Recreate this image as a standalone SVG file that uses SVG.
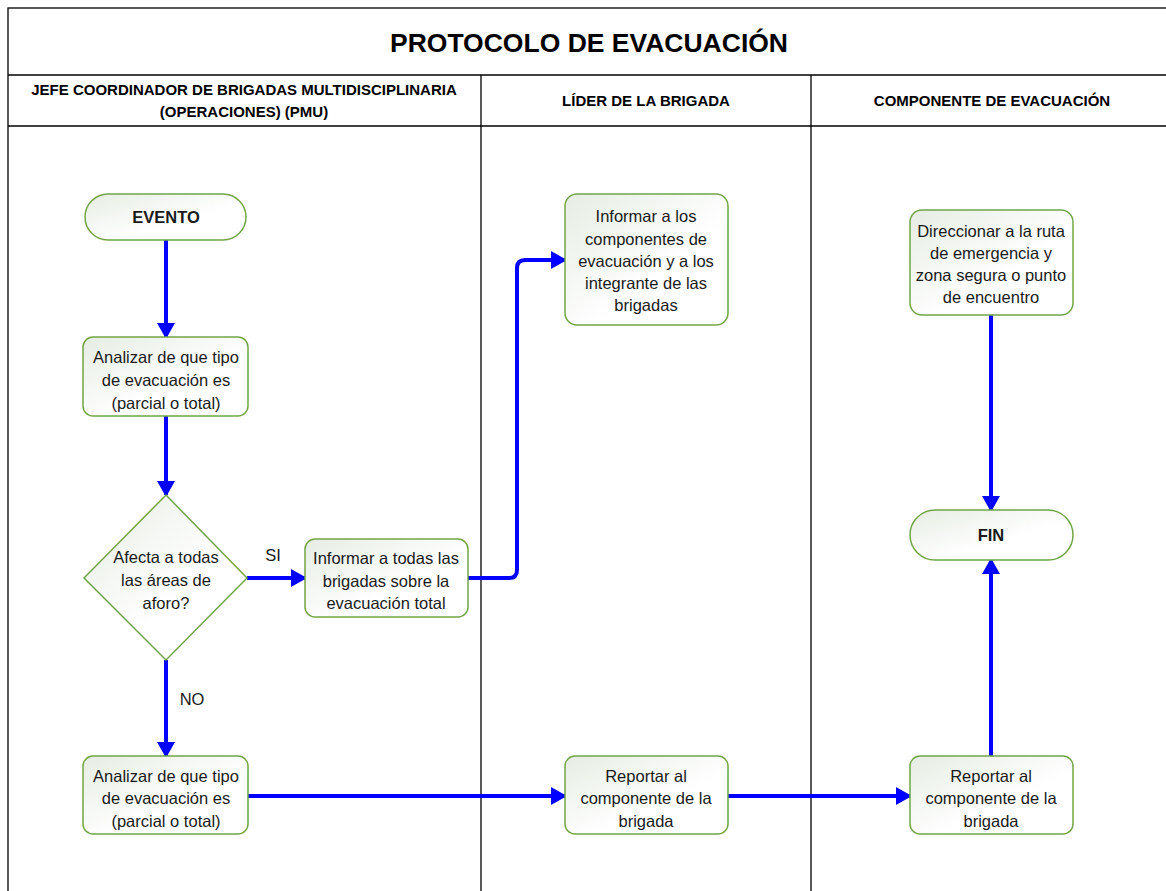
<svg xmlns="http://www.w3.org/2000/svg" width="1166" height="891" viewBox="0 0 1166 891">
<defs>
<linearGradient id="g" x1="0" y1="0" x2="1" y2="1">
<stop offset="0" stop-color="#e6ede3"/>
<stop offset="0.6" stop-color="#ffffff"/>
</linearGradient>
<marker id="ah" markerWidth="4" markerHeight="4.5" refX="3.5" refY="2.25" orient="auto" markerUnits="strokeWidth">
<path d="M0,0 L4,2.25 L0,4.5 z" fill="#0000ff"/>
</marker>
<style>
.frame{fill:none;stroke:#000;stroke-width:1.3}
.node{fill:url(#g);stroke:#72a546;stroke-width:1.5}
.t{font-family:"Liberation Sans",Arial,sans-serif;font-size:16.5px;fill:#1a1a1a;text-anchor:middle}
.b{font-weight:bold}
.h{font-family:"Liberation Sans",Arial,sans-serif;font-size:15px;font-weight:bold;fill:#000;text-anchor:middle}
.c{fill:none;stroke:#0000ff;stroke-width:4;marker-end:url(#ah)}
</style>
</defs>
<rect width="1166" height="891" fill="#fff"/>
<g id="frame">
<rect class="frame" x="8" y="8" width="1160" height="890"/>
<line class="frame" x1="8" y1="75" x2="1166" y2="75"/>
<line class="frame" x1="8" y1="126" x2="1166" y2="126"/>
<line class="frame" x1="481" y1="75" x2="481" y2="891"/>
<line class="frame" x1="811" y1="75" x2="811" y2="891"/>
<text x="589" y="52" font-family="Liberation Sans,Arial,sans-serif" font-size="26.5" font-weight="bold" text-anchor="middle">PROTOCOLO DE EVACUACIÓN</text>
<text class="h" x="244" y="95">JEFE COORDINADOR DE BRIGADAS MULTIDISCIPLINARIA</text>
<text class="h" x="244" y="117">(OPERACIONES) (PMU)</text>
<text class="h" x="646" y="106">LÍDER DE LA BRIGADA</text>
<text class="h" x="992" y="106">COMPONENTE DE EVACUACIÓN</text>
</g>
<g id="connectors">
<line class="c" x1="166" y1="240" x2="166" y2="337"/>
<line class="c" x1="166" y1="416" x2="166" y2="495"/>
<line class="c" x1="247" y1="578" x2="305" y2="578"/>
<line class="c" x1="166" y1="660" x2="166" y2="756"/>
<path class="c" d="M468,578 H509 Q517,578 517,570 V268 Q517,260 525,260 H565"/>
<line class="c" x1="248" y1="796" x2="565" y2="796"/>
<line class="c" x1="728" y1="796" x2="910" y2="796"/>
<line class="c" x1="991" y1="756" x2="991" y2="560"/>
<line class="c" x1="991" y1="315" x2="991" y2="510"/>
<text class="t" x="273" y="561">SI</text>
<text class="t" x="192" y="705">NO</text>
</g>
<g id="evento">
<rect class="node" x="85" y="194" width="161" height="46" rx="23"/>
<text class="t b" x="166" y="223">EVENTO</text>
</g>
<g id="analizar1">
<rect class="node" x="83" y="337" width="165" height="79" rx="10"/>
<text class="t" x="166" y="363">Analizar de que tipo</text>
<text class="t" x="166" y="386">de evacuación es</text>
<text class="t" x="166" y="409">(parcial o total)</text>
</g>
<g id="decision">
<polygon class="node" points="166,495 247,578 166,660 84,578"/>
<text class="t" x="166" y="563">Afecta a todas</text>
<text class="t" x="166" y="586">las áreas de</text>
<text class="t" x="166" y="609">aforo?</text>
</g>
<g id="informar-todas">
<rect class="node" x="305" y="539" width="163" height="78" rx="10"/>
<text class="t" x="386" y="564">Informar a todas las</text>
<text class="t" x="386" y="587">brigadas sobre la</text>
<text class="t" x="386" y="609">evacuación total</text>
</g>
<g id="informar-componentes">
<rect class="node" x="565" y="194" width="163" height="131" rx="12"/>
<text class="t" x="646" y="222">Informar a los</text>
<text class="t" x="646" y="245">componentes de</text>
<text class="t" x="646" y="267">evacuación y a los</text>
<text class="t" x="646" y="289">integrante de las</text>
<text class="t" x="646" y="311">brigadas</text>
</g>
<g id="direccionar">
<rect class="node" x="910" y="210" width="163" height="105" rx="12"/>
<text class="t" x="991" y="237">Direccionar a la ruta</text>
<text class="t" x="991" y="259">de emergencia y</text>
<text class="t" x="991" y="281">zona segura o punto</text>
<text class="t" x="991" y="303">de encuentro</text>
</g>
<g id="fin">
<rect class="node" x="910" y="510" width="163" height="50" rx="25"/>
<text class="t b" x="991" y="541">FIN</text>
</g>
<g id="analizar2">
<rect class="node" x="83" y="756" width="165" height="78" rx="10"/>
<text class="t" x="166" y="782">Analizar de que tipo</text>
<text class="t" x="166" y="804">de evacuación es</text>
<text class="t" x="166" y="827">(parcial o total)</text>
</g>
<g id="reportar1">
<rect class="node" x="565" y="756" width="163" height="78" rx="10"/>
<text class="t" x="646" y="782">Reportar al</text>
<text class="t" x="646" y="804">componente de la</text>
<text class="t" x="646" y="827">brigada</text>
</g>
<g id="reportar2">
<rect class="node" x="910" y="756" width="163" height="78" rx="10"/>
<text class="t" x="991" y="782">Reportar al</text>
<text class="t" x="991" y="804">componente de la</text>
<text class="t" x="991" y="827">brigada</text>
</g>
</svg>
